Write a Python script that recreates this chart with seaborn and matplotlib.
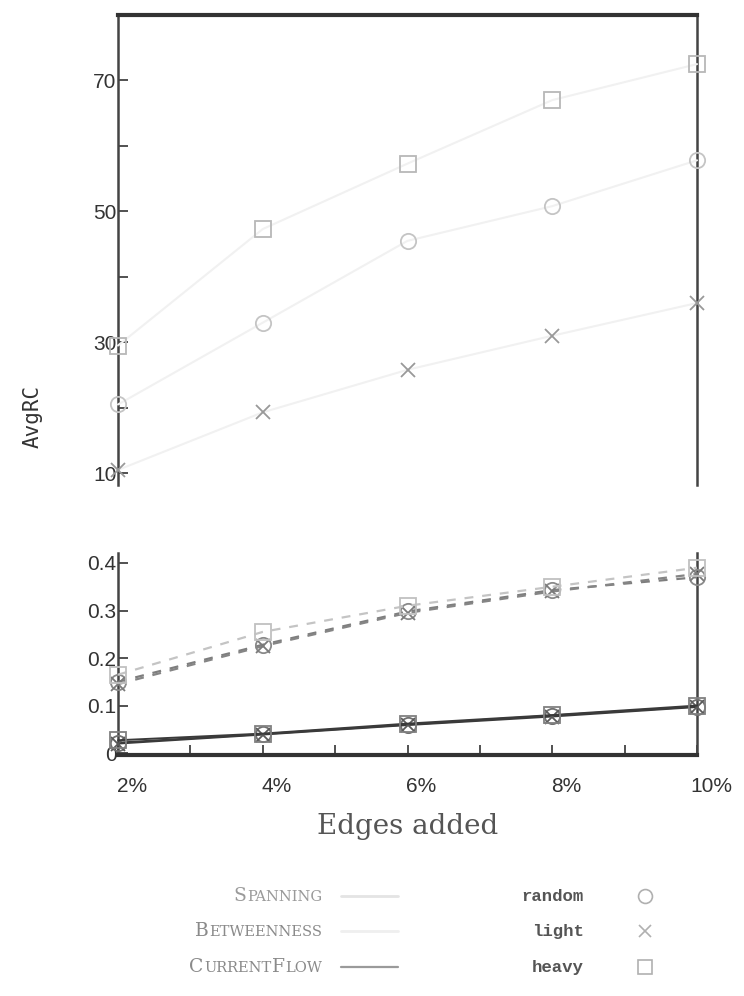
import numpy as np
import pandas as pd
import matplotlib
matplotlib.use("Agg")
import matplotlib.pyplot as plt
import matplotlib.transforms as mtransforms
import seaborn as sns

sns.set_style("white")
plt.rcParams["font.family"] = ["Liberation Sans", "DejaVu Sans"]

# ---------------- data ----------------
edges_pct = [2, 4, 6, 8, 10]
edge_tick_labels = ["2%", "4%", "6%", "8%", "10%"]

spanning_random = [20.5, 33.0, 45.5, 50.8, 57.8]
spanning_light = [10.5, 19.3, 25.8, 31.0, 36.0]
spanning_heavy = [29.5, 47.3, 57.3, 67.0, 72.5]

betweenness_random = [0.150, 0.228, 0.298, 0.343, 0.370]
betweenness_light = [0.145, 0.225, 0.295, 0.340, 0.377]
betweenness_heavy = [0.165, 0.255, 0.310, 0.350, 0.390]

currentflow_random = [0.022, 0.040, 0.060, 0.079, 0.098]
currentflow_light = [0.020, 0.039, 0.059, 0.077, 0.097]
currentflow_heavy = [0.027, 0.041, 0.062, 0.080, 0.100]

top_yticks = [10, 20, 30, 40, 50, 60, 70]
top_yticklabels = ["10", "", "30", "", "50", "", "70"]
bot_yticks = [0.0, 0.1, 0.2, 0.3, 0.4]
bot_yticklabels = ["0", "0.1", "0.2", "0.3", "0.4"]

methods = ["Spanning", "Betweenness", "CurrentFlow"]
variants = ["random", "light", "heavy"]

rows = []
for m, series in zip(methods, [
        (spanning_random, spanning_light, spanning_heavy),
        (betweenness_random, betweenness_light, betweenness_heavy),
        (currentflow_random, currentflow_light, currentflow_heavy)]):
    for v, vals in zip(variants, series):
        for x, y in zip(edges_pct, vals):
            rows.append({"method": m, "variant": v, "edges": x, "AvgRC": y})
df = pd.DataFrame(rows)

# ---------------- layout ----------------
W, H = 744, 996
fig = plt.figure(figsize=(W / 100, H / 100), dpi=100)

def fx(px):
    return px / W

def fy(px):
    return 1 - px / H

L, R = 118, 697
ax_top = fig.add_axes([fx(L), fy(485), fx(R) - fx(L), fy(15) - fy(485)])
ax_bot = fig.add_axes([fx(L), fy(755), fx(R) - fx(L), fy(553) - fy(755)])

marker_map = {"random": "o", "light": "x", "heavy": "s"}
line_style = {
    "Spanning": dict(color="#f1f1f1", ls="-", lw=1.5),
    "Betweenness": dict(color="#9a9a9a", ls=(0, (4, 4)), lw=1.6),
    "CurrentFlow": dict(color="#3a3a3a", ls="-", lw=1.4),
}
marker_color = {
    "Spanning": {"random": "#c4c4c4", "light": "#999999", "heavy": "#b8b8b8"},
    "Betweenness": {"random": "#8a8a8a", "light": "#7a7a7a", "heavy": "#c0c0c0"},
    "CurrentFlow": {"random": "#707070", "light": "#5a5a5a", "heavy": "#808080"},
}
betw_line_color = {"random": "#7e7e7e", "light": "#858585", "heavy": "#c4c4c4"}

for m in methods:
    ax = ax_top if m == "Spanning" else ax_bot
    for v in variants:
        sub = df[(df.method == m) & (df.variant == v)]
        st = line_style[m]
        lc = betw_line_color[v] if m == "Betweenness" else st["color"]
        mc = marker_color[m][v]
        sns.lineplot(data=sub, x="edges", y="AvgRC", ax=ax, color=lc,
                     linestyle=st["ls"], linewidth=st["lw"], legend=False,
                     marker=marker_map[v], markersize=11 if v != "light" else 10,
                     markerfacecolor="none" if v != "light" else mc,
                     markeredgecolor=mc, markeredgewidth=1.3, clip_on=False,
                     zorder=3)

# ---------------- top axes ----------------
ax_top.set_xlim(2, 10)
ax_top.set_ylim(8.2, 80)
ax_top.set_xticks([])
ax_top.set_yticks(top_yticks)
ax_top.set_yticklabels(top_yticklabels)
ax_top.set_xlabel("")
ax_top.set_ylabel("")
ax_top.spines["bottom"].set_visible(False)
ax_top.spines["top"].set_linewidth(3.0)
ax_top.spines["top"].set_color("#333333")
for s in ["left", "right"]:
    ax_top.spines[s].set_linewidth(1.8)
    ax_top.spines[s].set_color("#444444")
ax_top.tick_params(axis="y", direction="in", length=7, width=1.2, pad=1,
                   labelsize=15, colors="#333333", left=True)

# ---------------- bottom axes ----------------
ax_bot.set_xlim(2, 10)
ax_bot.set_ylim(-0.004, 0.421)
ax_bot.set_xticks(np.arange(2, 11, 1))
ax_bot.set_xticklabels([edge_tick_labels[edges_pct.index(t)] if t in edges_pct else ""
                        for t in range(2, 11)])
ax_bot.set_yticks(bot_yticks)
ax_bot.set_yticklabels(bot_yticklabels)
ax_bot.set_xlabel("")
ax_bot.set_ylabel("")
ax_bot.spines["top"].set_visible(False)
ax_bot.spines["bottom"].set_linewidth(3.0)
ax_bot.spines["bottom"].set_color("#333333")
for s in ["left", "right"]:
    ax_bot.spines[s].set_linewidth(1.8)
    ax_bot.spines[s].set_color("#444444")
ax_bot.tick_params(axis="y", direction="in", length=7, width=1.2, pad=1,
                   labelsize=15, colors="#333333", left=True)
ax_bot.tick_params(axis="x", direction="in", length=7, width=1.2, pad=16,
                   labelsize=15, colors="#333333", bottom=True)
off = mtransforms.ScaledTranslation(0.14, 0, fig.dpi_scale_trans)
for lab in ax_bot.get_xticklabels():
    lab.set_transform(lab.get_transform() + off)

# ---------------- axis labels ----------------
fig.text(fx(408), fy(826), "Edges added", ha="center", va="center",
         family=["DejaVu Serif"], fontsize=20, color="#555555")
fig.text(fx(33), fy(416), "AvgRC", rotation=90, ha="center", va="center",
         family=["DejaVu Sans Mono"], fontsize=15, color="#333333")

# ---------------- legend (drawn manually) ----------------
legend_rows_y = [901, 936, 972]
legend_names = [
    [("S", True), ("PANNING", False)],
    [("B", True), ("ETWEENNESS", False)],
    [("C", True), ("URRENT", False), ("F", True), ("LOW", False)],
]
legend_name_colors = ["#9a9a9a", "#8a8a8a", "#8a8a8a"]

renderer = fig.canvas.get_renderer()
for parts, y, col in zip(legend_names, legend_rows_y, legend_name_colors):
    xr = 322
    for text, is_big in reversed(parts):
        size = 13.5 if is_big else 10.5
        t = fig.text(fx(xr), fy(y), text, ha="right", va="baseline",
                     fontsize=size, color=col, family=["DejaVu Serif"])
        bb = t.get_window_extent(renderer=renderer)
        xr -= bb.width + 0.5

sample_styles = [
    dict(color="#e4e4e4", ls="-", lw=2.0),
    dict(color="#efefef", ls="-", lw=2.0),
    dict(color="#9a9a9a", ls="-", lw=1.6),
]
for y, st in zip(legend_rows_y, sample_styles):
    fig.add_artist(plt.Line2D([fx(341), fx(398)], [fy(y - 5), fy(y - 5)],
                              transform=fig.transFigure, **st))

for v, y in zip(variants, legend_rows_y):
    fig.text(fx(584), fy(y), v, ha="right", va="baseline", fontsize=12.5,
             color="#555555", family=["Liberation Mono", "DejaVu Sans Mono"],
             weight="bold")
    fig.add_artist(plt.Line2D([fx(645)], [fy(y - 5)], transform=fig.transFigure,
                              marker=marker_map[v], markersize=10 if v != "light" else 8,
                              markerfacecolor="none", markeredgecolor="#b0b0b0",
                              markeredgewidth=1.2, ls="none"))

fig.savefig("out.png", dpi=100)
